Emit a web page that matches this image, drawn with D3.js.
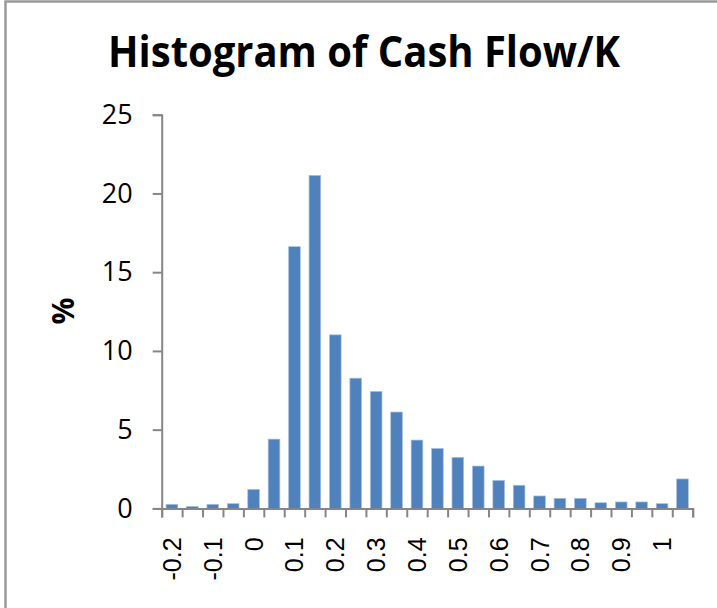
<!DOCTYPE html>
<html lang="en">
<head>
    <meta charset="UTF-8">
    <title>Histogram of Cash Flow/K</title>
    <script src="https://d3js.org/d3.v7.min.js"></script>
    <style>
        body { margin: 0; background: #fff; }
    </style>
</head>
<body>
    <div id="plot"></div>

    <script>
        // bins of width 0.05, starting at -0.2 (labels shown on every other bin)
        let bins = [-0.2, -0.15, -0.1, -0.05, 0, 0.05, 0.1, 0.15, 0.2, 0.25, 0.3, 0.35, 0.4,
                    0.45, 0.5, 0.55, 0.6, 0.65, 0.7, 0.75, 0.8, 0.85, 0.9, 0.95, 1, 1.05];
        let binLabels = ['-0.2', '', '-0.1', '', '0', '', '0.1', '', '0.2', '', '0.3', '', '0.4',
                         '', '0.5', '', '0.6', '', '0.7', '', '0.8', '', '0.9', '', '1', ''];
        let percent = [0.26, 0.13, 0.26, 0.3, 1.21, 4.4, 16.62, 21.15, 11.02, 8.27, 7.43, 6.12, 4.34,
                       3.81, 3.24, 2.69, 1.78, 1.47, 0.79, 0.64, 0.64, 0.36, 0.41, 0.41, 0.3, 1.87];
        let yTicks = [0, 5, 10, 15, 20, 25];

        function translate(x, y){
            return 'translate(' + x + ', ' + y + ')';
        }

        let svgWidth = 717;
        let svgHeight = 608;
        let plotLeft = 161.7, plotRight = 692.7, plotTop = 114.7, plotBottom = 508.4;

        let svg = d3.select('#plot')
                    .append('svg')
                        .attr('width', svgWidth)
                        .attr('height', svgHeight);

        // outer frame (only left and top edges visible in the picture)
        svg.append('rect')
            .attr('x', 5.5).attr('y', 1.5)
            .attr('width', 740).attr('height', 640)
            .attr('fill', 'none')
            .attr('stroke', '#9a9a9a')
            .attr('stroke-width', 2.5);

        let x = d3.scaleBand()
                    .domain(bins)
                    .range([plotLeft, plotRight])
                    .paddingInner(0.75 / 1.75)
                    .paddingOuter(0.75 / 3.5);

        // boundary scale for the tick marks between bins
        let xEdge = d3.scaleLinear()
                    .domain([0, bins.length])
                    .range([plotLeft, plotRight]);

        let y = d3.scaleLinear()
                    .domain([0, 25])
                    .range([plotBottom, plotTop]);

        // bars
        svg.selectAll('rect.bar')
            .data(percent)
            .enter()
            .append('rect')
            .attr('class', 'bar')
            .attr('x', (d, i) => x(bins[i]))
            .attr('width', x.bandwidth())
            .attr('y', d => y(d))
            .attr('height', d => plotBottom - y(d))
            .style('fill', '#4f81bd')
            .style('stroke', '#a9c1e0')
            .style('stroke-width', 0.7);

        // y axis
        let yAxis = svg.append('g')
            .attr('transform', translate(plotLeft, 0))
            .call(d3.axisLeft(y).tickValues(yTicks).tickSize(9).tickPadding(20));
        yAxis.select('.domain').attr('stroke', '#868686').attr('stroke-width', 2);
        yAxis.selectAll('.tick line').attr('stroke', '#868686').attr('stroke-width', 2);
        yAxis.selectAll('.tick text')
            .attr('font-family', 'Open Sans, sans-serif')
            .attr('font-size', 27)
            .attr('fill', '#000');

        // x axis tick marks at bin edges
        let xAxis = svg.append('g')
            .attr('transform', translate(0, plotBottom))
            .call(d3.axisBottom(xEdge).tickValues(d3.range(bins.length + 1)).tickSize(9).tickFormat(''));
        xAxis.select('.domain').attr('stroke', '#868686').attr('stroke-width', 2);
        xAxis.selectAll('.tick line').attr('stroke', '#868686').attr('stroke-width', 2);

        // x axis labels, rotated
        let xLab = svg.append('g')
            .attr('transform', translate(0, plotBottom))
            .call(d3.axisBottom(x).tickSize(0).tickFormat((d, i) => binLabels[i]));
        xLab.select('.domain').remove();
        xLab.selectAll('.tick text')
            .attr('font-family', 'Liberation Sans, Arial, sans-serif')
            .attr('font-size', 25)
            .attr('fill', '#000')
            .attr('text-anchor', 'end')
            .attr('transform', 'rotate(-90)')
            .attr('x', -29)
            .attr('y', 0)
            .attr('dy', '0.36em');

        // title
        svg.append('text')
            .attr('x', 364)
            .attr('y', 67)
            .attr('text-anchor', 'middle')
            .attr('font-family', 'Open Sans, sans-serif')
            .attr('font-weight', 'bold')
            .attr('font-size', 43)
            .attr('textLength', 512)
            .attr('lengthAdjust', 'spacingAndGlyphs')
            .text('Histogram of Cash Flow/K');

        // y axis title
        svg.append('text')
            .attr('transform', translate(63, 311) + ' rotate(-90)')
            .attr('text-anchor', 'middle')
            .attr('dy', '0.35em')
            .attr('font-family', 'Open Sans, sans-serif')
            .attr('font-weight', 'bold')
            .attr('font-size', 30)
            .text('%');
    </script>
</body>
</html>
